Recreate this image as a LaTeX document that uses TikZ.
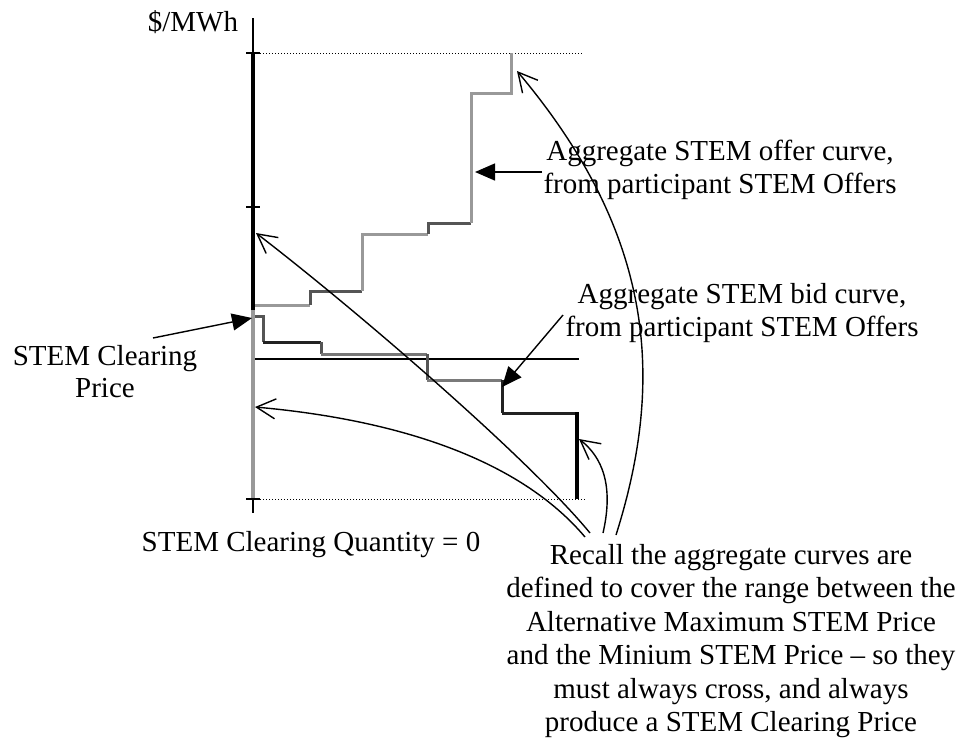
\documentclass[tikz,border=0pt]{standalone}
\usepackage{fontspec}
\setmainfont{Liberation Serif}
\usetikzlibrary{arrows.meta}
\definecolor{lg}{HTML}{999999}
\definecolor{dg}{HTML}{555555}
\definecolor{mg}{HTML}{777777}
\definecolor{bk}{HTML}{222222}
\begin{document}
\begin{tikzpicture}[x=1pt,y=-1pt,
  lbl/.style={inner sep=0pt,align=center,font=\fontsize{29}{33.5}\selectfont},
  stepln/.style={line width=3pt},
  filledarr/.style={line width=1.4pt,-{Triangle[length=20pt,width=17pt]}},
  openarr/.style={line width=1.4pt,-{Straight Barb[length=19pt,width=20pt,line width=1.4pt]}},
  dots/.style={line width=1pt,dotted},
  tickln/.style={line width=1.2pt}]
\useasboundingbox (0,0) rectangle (960,737);
% axis
\draw[line width=1.2pt] (253,18) -- (253,513);
\draw[line width=4pt,black] (253,53) -- (253,310);
\draw[line width=4pt,lg] (253,310) -- (253,499);
\foreach \yy in {53,207,499} \draw[tickln] (246,\yy) -- (260,\yy);
% dotted limits
\draw[dots] (260,53) -- (583,53);
\draw[dots] (260,499) -- (585,499);
% clearing price line
\draw[line width=1.3pt] (255,359) -- (579,359);
% offer curve
\draw[stepln,lg] (255,305) -- (310,305);
\draw[stepln,dg] (310,305) -- (310,291) -- (362,291);
\draw[stepln,lg] (362,291) -- (362,234) -- (428,234);
\draw[stepln,dg] (428,234) -- (428,223) -- (471,223);
\draw[stepln,lg] (471,223) -- (471,93) -- (511,93) -- (511,53);
% bid curve
\draw[stepln,dg] (255,316) -- (263,316) -- (263,342);
\draw[stepln,bk] (263,342) -- (321,342);
\draw[stepln,dg] (321,342) -- (321,354);
\draw[stepln,mg] (321,354) -- (427,354);
\draw[stepln,dg] (427,354) -- (427,380);
\draw[stepln,lg!80!black] (427,380) -- (502,380);
\draw[stepln,bk] (502,380) -- (502,413);
\draw[stepln,bk] (502,413) -- (577,413);
\draw[line width=4pt,black] (577,412) -- (577,499);
% labels
\node[lbl] (ylabel) at (193,22) {\$/MWh};
\node[lbl,font=\fontsize{29}{32}\selectfont] (cptxt) at (105,372) {STEM Clearing\\Price};
\node[lbl] (qlabel) at (311,545) {STEM Clearing Quantity = 0};
\node[lbl] (offertxt) at (720,170) {Aggregate STEM offer curve,\\from participant STEM Offers};
\node[lbl] (bidtxt) at (742,313) {Aggregate STEM bid curve,\\from participant STEM Offers};
\node[lbl] (recall) at (731,641) {Recall the aggregate curves are\\defined to cover the range between the\\Alternative Maximum STEM Price\\and the Minium STEM Price -- so they\\must always cross, and always\\produce a STEM Clearing Price};
% connector end points
\coordinate (offertail) at (542,172);
\coordinate (offertip) at (475,172);
\coordinate (bidtail) at (563,315);
\coordinate (bidtip) at (502,387);
\coordinate (cptail) at (153,338);
\coordinate (cptip) at (252,318);
\coordinate (r1) at (585,537);
\coordinate (r2) at (590,533);
\coordinate (r3) at (603,533);
\coordinate (r4) at (616,535);
\coordinate (minpt) at (255,407);
\coordinate (maxpt) at (256,233);
\coordinate (barpt) at (579,439);
\coordinate (toppt) at (517,71);
% arrows
\draw[filledarr] (offertail) -- (offertip);
\draw[filledarr] (bidtail) -- (bidtip);
\draw[filledarr] (cptail) -- (cptip);
\draw[openarr] (r1) .. controls (520,460) and (400,420) .. (minpt);
\draw[openarr] (r2) .. controls (530,460) and (360,313) .. (maxpt);
\draw[openarr] (r3) .. controls (614,485) and (602,457) .. (barpt);
\draw[openarr] (r4) .. controls (665,380) and (655,235) .. (toppt);
\end{tikzpicture}
\end{document}
